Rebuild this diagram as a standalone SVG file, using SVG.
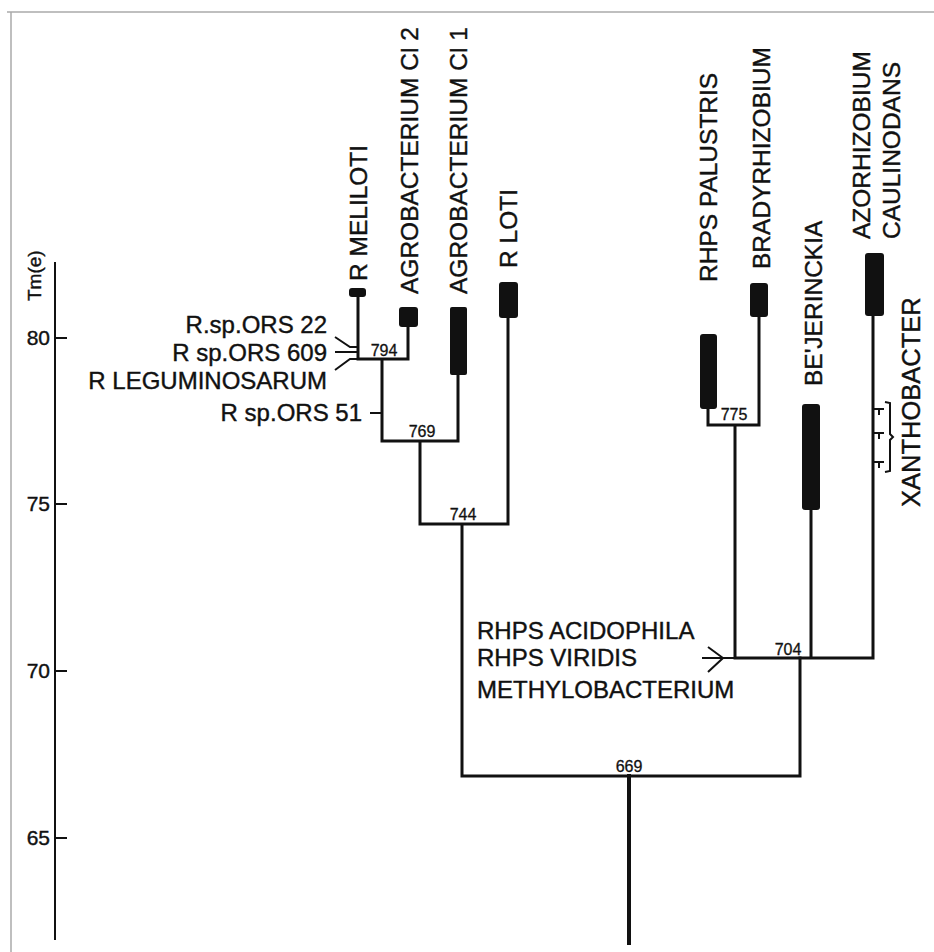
<svg xmlns="http://www.w3.org/2000/svg" width="934" height="952" viewBox="0 0 934 952">
<style>
text{font-family:"Liberation Sans",Arial,sans-serif;fill:#111;stroke:#111;stroke-width:0.4}
.lbl{font-size:24px}
.vl{font-size:24.5px}
.num{font-size:16px;text-anchor:middle;stroke-width:0.3}
.ax{font-size:21px;text-anchor:end}
.bar{fill:#111}
.ln{stroke:#111;stroke-width:3;fill:none;stroke-linecap:square}
.thin{stroke:#111;stroke-width:2;fill:none}
.frame{stroke:#aaa;stroke-width:1.5;fill:none}
</style>
<rect x="0" y="0" width="934" height="952" fill="#fff"/>
<path class="frame" d="M7,12 H934 M11,12 V952"/>
<g id="axis">
<path class="thin" d="M55,262 V940 M55,338 H67 M55,504 H67 M55,671 H67 M55,838 H67"/>
<text class="ax" x="50" y="345">80</text>
<text class="ax" x="50" y="511">75</text>
<text class="ax" x="50" y="678">70</text>
<text class="ax" x="50" y="845">65</text>
<text transform="translate(41,301) rotate(-90)" style="font-size:19px">Tm(e)</text>
</g>
<g id="connectors">
<path class="ln" d="M358,297 V359 M408,327 V359 M358,359 H408 M382,359 V441 M458,375 V441 M382,441 H458 M420,441 V524 M508,318 V524 M420,524 H508 M462,524 V776 M462,776 H800 M800,658 V776"/>
<path class="ln" d="M629,776 V943" style="stroke-width:4"/>
<path class="ln" d="M708,408 V425 M759,317 V425 M708,425 H759 M735,425 V658 M811,510 V658 M873,316 V658 M735,658 H873"/>
<path class="thin" d="M370,413 H382"/>
<path class="thin" d="M335,337 L350,347 H358 M335,352 H358 M335,370 L350,359 H358"/>
<path class="thin" d="M702,658 H735 M708,647 L723,658 L708,672"/>
<path class="thin" d="M873,409 H884 M879,409 V415 M873,433 H884 M879,433 V439 M873,462 H884 M879,462 V468"/>
<path class="thin" d="M885,402 L890,403 V434 L893,437 L890,440 V471 L885,472"/>
</g>
<g id="leaf-r-meliloti">
<rect class="bar" x="349" y="288" width="17" height="9" rx="3"/>
<text class="vl" transform="translate(367,281) rotate(-90)">R MELILOTI</text>
</g>
<g id="leaf-agro-cl2">
<rect class="bar" x="399" y="307" width="19" height="20" rx="3"/>
<text class="vl" transform="translate(418,294) rotate(-90)">AGROBACTERIUM Cl 2</text>
</g>
<g id="leaf-agro-cl1">
<rect class="bar" x="450" y="307" width="17" height="68" rx="2"/>
<text class="vl" transform="translate(467,294) rotate(-90)">AGROBACTERIUM Cl 1</text>
</g>
<g id="leaf-r-loti">
<rect class="bar" x="499" y="282" width="19" height="36" rx="3"/>
<text class="vl" transform="translate(517,268) rotate(-90)">R LOTI</text>
</g>
<g id="leaf-ors22"><text class="lbl" x="327" y="333" text-anchor="end">R.sp.ORS 22</text></g>
<g id="leaf-ors609"><text class="lbl" x="327" y="361" text-anchor="end">R sp.ORS 609</text></g>
<g id="leaf-leguminosarum"><text class="lbl" x="327" y="389" text-anchor="end">R LEGUMINOSARUM</text></g>
<g id="leaf-ors51"><text class="lbl" x="362" y="421" text-anchor="end">R sp.ORS 51</text></g>
<g id="leaf-palustris">
<rect class="bar" x="700" y="334" width="17" height="75" rx="3"/>
<text class="vl" transform="translate(717,282) rotate(-90)">RHPS PALUSTRIS</text>
</g>
<g id="leaf-bradyrhizobium">
<rect class="bar" x="750" y="283" width="18" height="34" rx="3"/>
<text class="vl" transform="translate(770,269) rotate(-90)">BRADYRHIZOBIUM</text>
</g>
<g id="leaf-beijerinckia">
<rect class="bar" x="802" y="404" width="18" height="106" rx="3"/>
<text class="vl" transform="translate(822,386) rotate(-90)">BE'JERINCKIA</text>
</g>
<g id="leaf-azorhizobium">
<rect class="bar" x="865" y="253" width="19" height="63" rx="3"/>
<text class="vl" transform="translate(870,239) rotate(-90)">AZORHIZOBIUM</text>
<text class="vl" transform="translate(900,239) rotate(-90)">CAULINODANS</text>
</g>
<g id="leaf-xanthobacter">
<text class="vl" transform="translate(920,507) rotate(-90)" style="font-size:25.5px">XANTHOBACTER</text>
</g>
<g id="leaf-others">
<text class="lbl" x="477" y="639">RHPS ACIDOPHILA</text>
<text class="lbl" x="477" y="666">RHPS VIRIDIS</text>
<text class="lbl" x="477" y="698">METHYLOBACTERIUM</text>
</g>
<g id="node-794"><text class="num" x="384" y="356">794</text></g>
<g id="node-769"><text class="num" x="422" y="437">769</text></g>
<g id="node-744"><text class="num" x="463" y="520">744</text></g>
<g id="node-775"><text class="num" x="734" y="420">775</text></g>
<g id="node-704"><text class="num" x="788" y="655">704</text></g>
<g id="node-669"><text class="num" x="629" y="772">669</text></g>
</svg>
